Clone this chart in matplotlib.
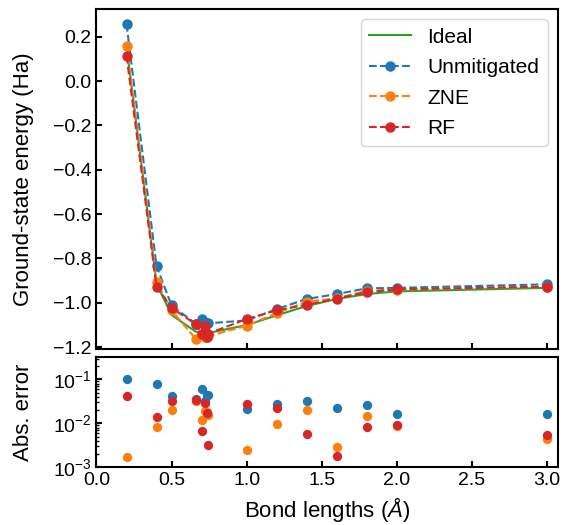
import numpy as np
import matplotlib
matplotlib.use("Agg")
import matplotlib.pyplot as plt

# H2 bond lengths (angstrom)
bond_lengths = [0.2, 0.4, 0.5, 0.66, 0.70, 0.72, 0.735, 0.74,
                1.0, 1.2, 1.4, 1.6, 1.8, 2.0, 3.0]

# exact ground-state energies (Ha)
e_ideal = [0.157, -0.914, -1.055, -1.130, -1.136, -1.137, -1.137, -1.137,
           -1.101, -1.057, -1.015, -0.983, -0.961, -0.949, -0.933]

# signed deviation of each method from the exact energy (Ha)
dev_unmitigated = [0.100, 0.079, 0.043, 0.036, 0.061, 0.033, 0.044, 0.044,
                   0.021, 0.028, 0.032, 0.022, 0.026, 0.016, 0.016]
dev_zne = [0.0017, 0.0082, 0.0206, -0.032, -0.0117, -0.0188, -0.018, -0.0152,
           -0.0025, 0.0096, 0.020, 0.0029, 0.0147, 0.0085, 0.0045]
dev_rf = [-0.043, -0.0137, 0.032, 0.0336, -0.0066, 0.0298, -0.0176, -0.0033,
          0.0272, 0.0229, 0.0058, 0.0018, 0.0082, 0.0093, 0.0055]

plt.rcParams['font.family'] = ['Liberation Sans', 'DejaVu Sans']
plt.rcParams['mathtext.fontset'] = 'custom'
plt.rcParams['mathtext.rm'] = 'Liberation Sans'
plt.rcParams['mathtext.it'] = 'Liberation Sans:italic'
plt.rcParams['axes.linewidth'] = 1.5
plt.rcParams['xtick.direction'] = 'in'
plt.rcParams['ytick.direction'] = 'in'
plt.rcParams['xtick.major.width'] = 1.5
plt.rcParams['ytick.major.width'] = 1.5
plt.rcParams['ytick.minor.width'] = 1.0
plt.rcParams['xtick.major.size'] = 4
plt.rcParams['ytick.major.size'] = 4
plt.rcParams['ytick.minor.size'] = 2.5
plt.rcParams['xtick.labelsize'] = 14
plt.rcParams['ytick.labelsize'] = 14

x = np.array(bond_lengths)
ideal = np.array(e_ideal)
series = [
    ("Unmitigated", "tab:blue", np.array(dev_unmitigated)),
    ("ZNE", "tab:orange", np.array(dev_zne)),
    ("RF", "tab:red", np.array(dev_rf)),
]

fig = plt.figure(figsize=(5.63, 5.25), dpi=100)
ax = fig.add_axes([0.1714, 0.3347, 0.8197, 0.6482])
ax_err = fig.add_axes([0.1714, 0.1099, 0.8197, 0.2107], sharex=ax)

# energy curves
ax.plot(x, ideal, color="tab:green", lw=1.5, label="Ideal")
for name, color, dev in series:
    ax.plot(x, ideal + dev, "--o", color=color, lw=1.5, ms=6.5, label=name)

ax.set_xlim(0.0, 3.075)
ax.set_ylim(-1.21, 0.325)
ax.set_yticks(np.arange(-1.2, 0.21, 0.2))
ax.set_ylabel("Ground-state energy (Ha)", fontsize=16)
ax.tick_params(labelbottom=False)
ax.legend(loc="upper right", fontsize=15, handlelength=2.0, labelspacing=0.55)

# absolute errors on a log scale
for name, color, dev in series:
    ax_err.scatter(x, np.abs(dev), color=color, s=45, linewidths=0)

ax_err.set_yscale("log")
ax_err.set_ylim(1e-3, 0.33)
ax_err.set_xticks(np.arange(0, 3.01, 0.5))
ax_err.set_ylabel("Abs. error", fontsize=16)
ax_err.set_xlabel(r"Bond lengths ($\AA$)", fontsize=16)

ax.yaxis.set_label_coords(-0.135, 0.5)
ax_err.yaxis.set_label_coords(-0.135, 0.5)

fig.savefig("out.png", dpi=100)
